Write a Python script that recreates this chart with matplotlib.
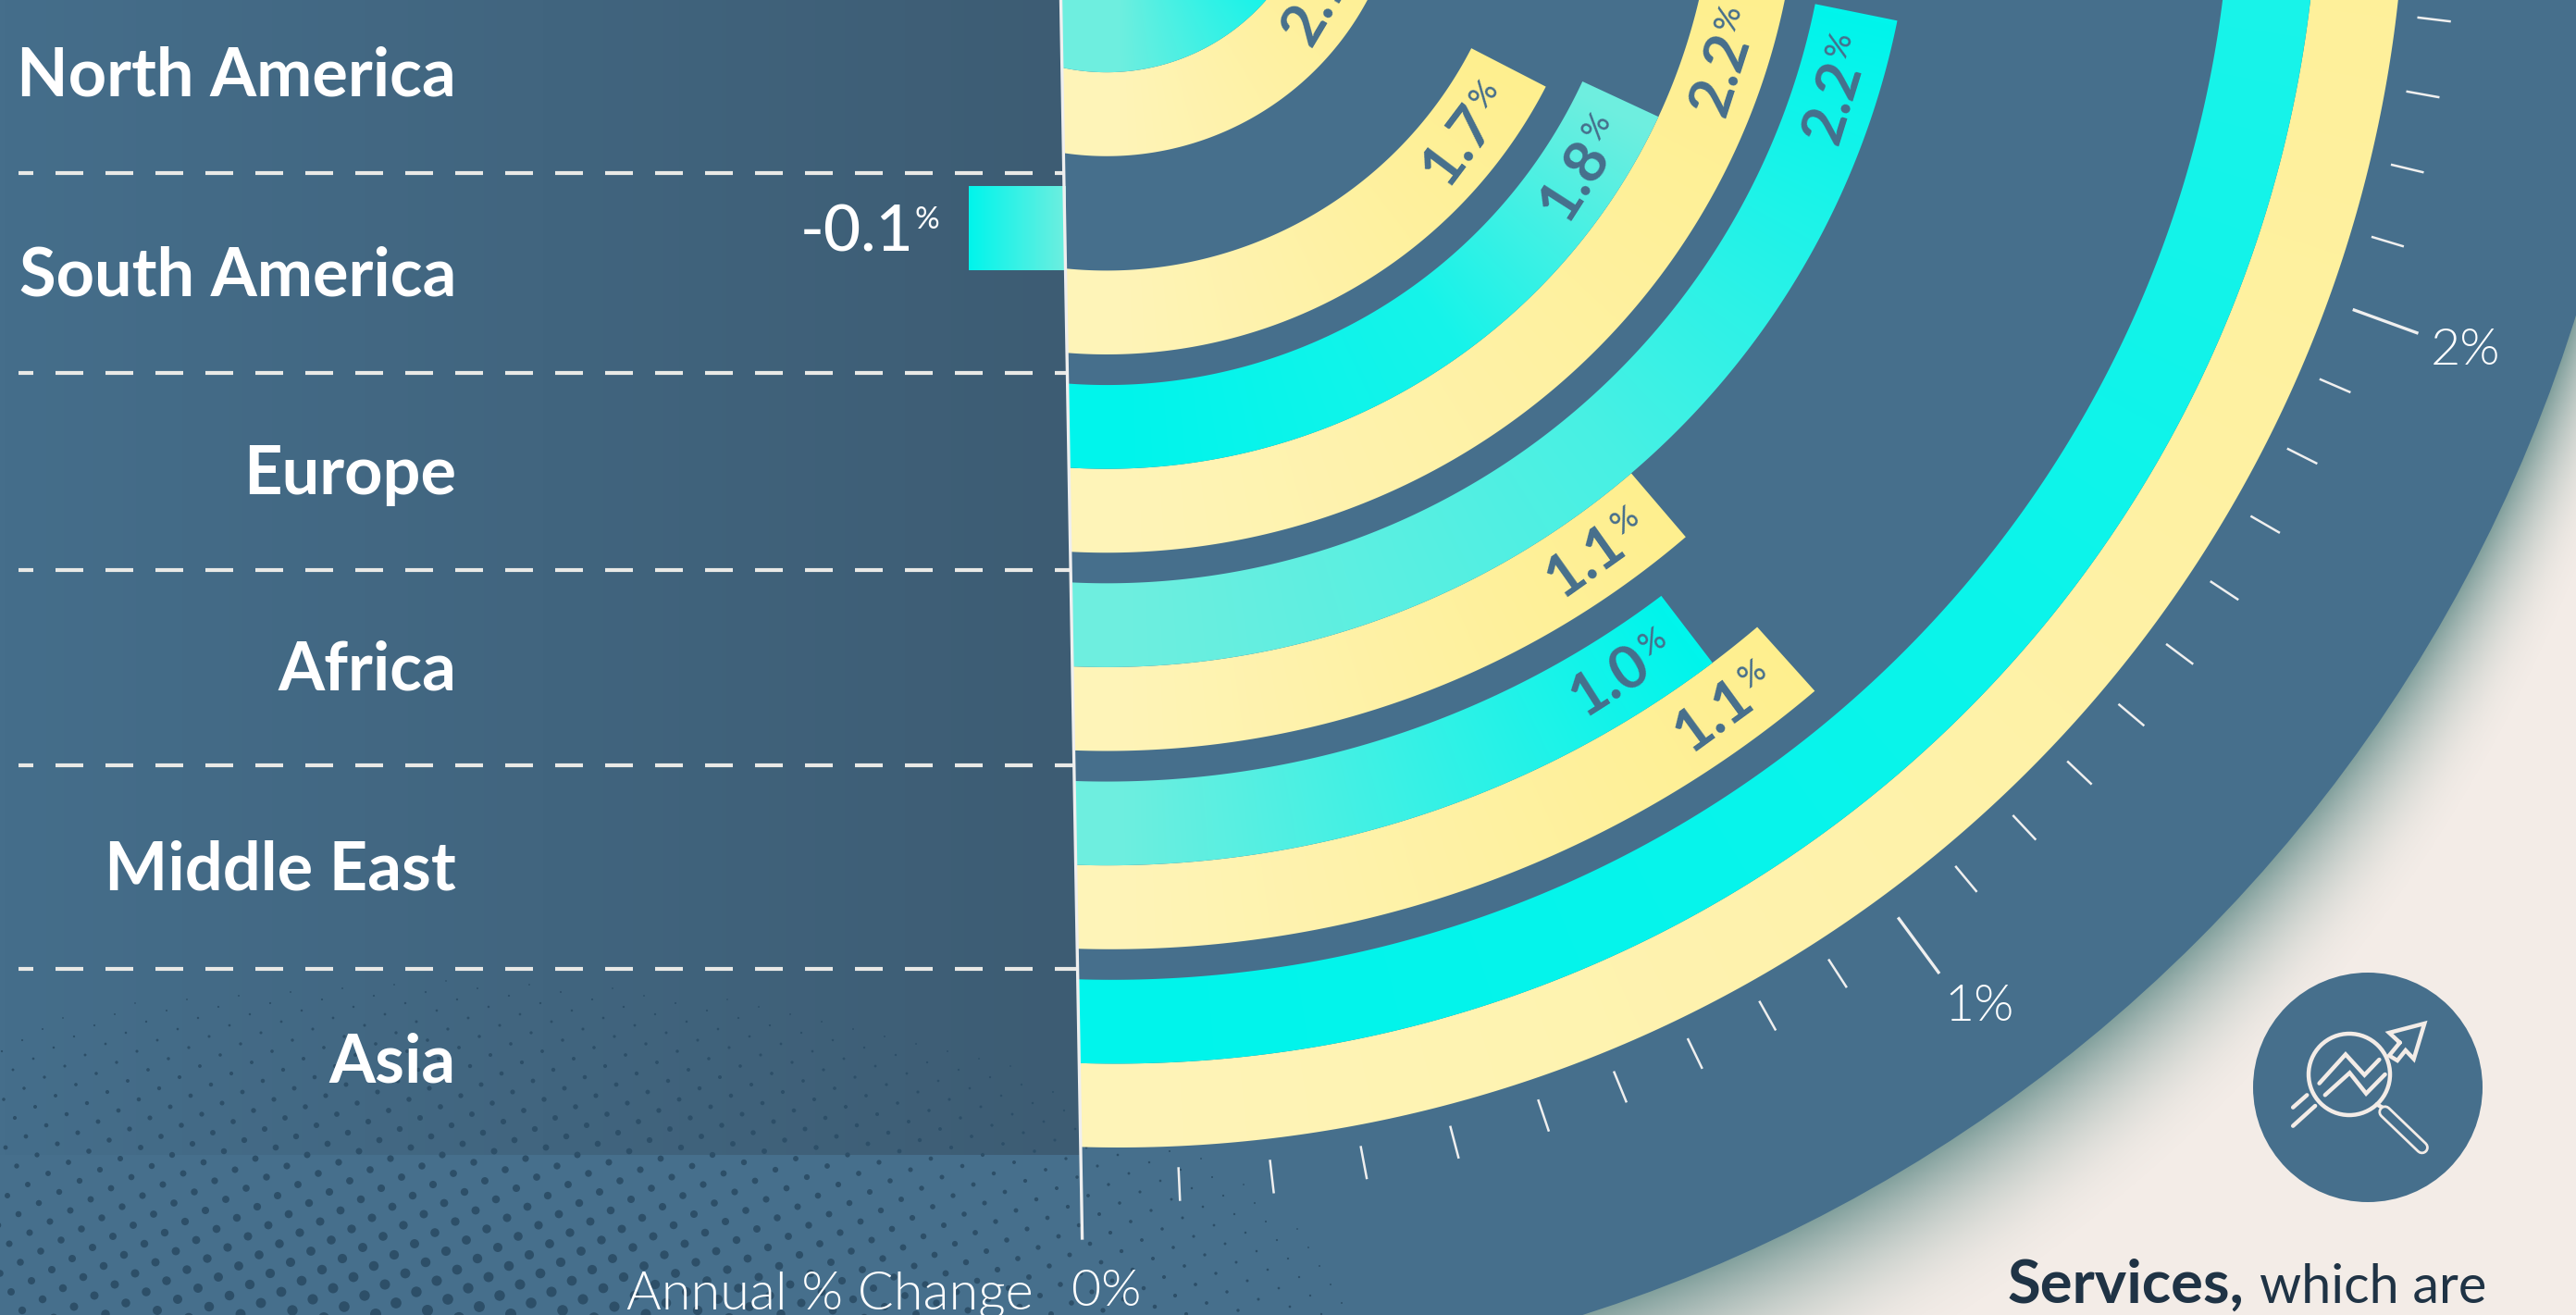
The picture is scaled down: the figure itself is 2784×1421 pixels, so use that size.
#!/usr/bin/env python3

import numpy as np
import matplotlib
matplotlib.use('Agg')
import matplotlib.pyplot as plt
from matplotlib.patches import Polygon, Circle, Rectangle

W, H = 2784, 1421

regions = ['North America', 'South America', 'Europe', 'Africa', 'Middle East', 'Asia']
# the two rings of each region, outer edge radius comes from the layout below
teal_values = [2.1, -0.1, 1.8, 2.2, 1.0, 3.4]
yellow_values = [2.1, 1.7, 2.2, 1.1, 1.1, 3.5]
teal_labels = ['', '-0.1', '1.8', '2.2', '1.0', '']
yellow_labels = ['2.1', '1.7', '2.2', '1.1', '1.1', '']

tick_major = [0, 1, 2]
tick_major_labels = ['0%', '1%', '2%']
tick_minor = [0.1, 0.2, 0.3, 0.4, 0.5, 0.6, 0.7, 0.8, 0.9, 1.1, 1.2, 1.3, 1.4, 1.5, 1.6, 1.7, 1.8, 1.9,
              2.1, 2.2, 2.3, 2.4, 2.5]

# value -> angle from straight down, degrees
scale_pct = [0, 0.5, 1, 2, 2.4, 4]
scale_deg = [-1.4, 18.7, 36.4, 70, 83.1, 135]

cx, cy = 1209, -151
disc_r = 1650
band = 90.6
gap = 33.05
asia_out = 1391
pitch = 2 * band + gap

BG = '#F3ECE7'
DISC = '#466F8C'
CYAN = np.array([0x00, 0xF5, 0xEC]) / 255
CYAN_L = np.array([0x6E, 0xEE, 0xDF]) / 255
YEL = np.array([0xFF, 0xEF, 0x8E]) / 255
YEL_L = np.array([0xFE, 0xF4, 0xB8]) / 255

plt.rcParams['font.family'] = ['Lato', 'DejaVu Sans']


def ang(v):
	return np.interp(v, scale_pct, scale_deg)


def bar_end(v, r):
	# inner rings run a bit ahead of the scale in the picture
	return ang(v) + min(3.2, 2.8 * (490 / r) ** 2) + (1.0 if v > 2.1 else 0)


def ring_shift(r):
	# inner rings sit slightly left of the outer ones
	return np.clip((asia_out - r) * 0.04, 0, 13)


def polar(r, deg):
	a = np.radians(deg)
	return cx - ring_shift(r) + r * np.sin(a), cy + r * np.cos(a)


def line_x(y):
	# the zero line is a little slanted
	return 1146.5 + y * 0.01725


yy, xx = np.mgrid[0:H, 0:W]
rr = np.hypot(xx - cx, yy - cy)
tt = np.degrees(np.arctan2(xx - cx, yy - cy))


def band_path(r0, r1, end_deg):
	# inner and outer arc from the slanted zero line to the end of the bar
	a0 = np.degrees(np.arcsin((line_x(cy + r0) - cx + ring_shift(r0)) / r0))
	a1 = np.degrees(np.arcsin((line_x(cy + r1) - cx + ring_shift(r1)) / r1))
	t_in = np.linspace(a0, end_deg, 300)
	t_out = np.linspace(end_deg, a1, 300)
	xi, yi = polar(r0, t_in)
	xo, yo = polar(r1, t_out)
	return np.column_stack([np.r_[xi, xo], np.r_[yi, yo]])


def draw_band(ax, r0, r1, end_deg, stops):
	# stops is a list of (angle, colour), colour runs along the ring
	angs = [s[0] for s in stops]
	img = np.dstack([np.interp(tt, angs, [s[1][c] for s in stops]) for c in range(3)])
	im = ax.imshow(img, extent=(0, W, H, 0), zorder=4, interpolation='nearest', aspect='auto')
	poly = Polygon(band_path(r0, r1, end_deg), closed=True, transform=ax.transData, fc='none', ec='none')
	ax.add_patch(poly)
	im.set_clip_path(poly)


def value_label(ax, r, end_deg, text):
	deg = end_deg - np.degrees(83 / r)
	x, y = polar(r, deg)
	rot = deg
	a = np.radians(rot)
	ux, uy = np.cos(a), -np.sin(a)
	nx, ny = -np.sin(a), -np.cos(a)
	ax.text(x + 28 * ux, y + 28 * uy, text, color=DISC, fontsize=46, fontweight='bold', rotation=rot,
			rotation_mode='anchor', ha='right', va='center', zorder=6)
	ax.text(x + 30 * ux + 11 * nx, y + 30 * uy + 11 * ny, '%', color=DISC, fontsize=25, fontweight=500, rotation=rot,
			rotation_mode='anchor', ha='left', va='center', zorder=6)


def stroke(ax, pts, lw=3.2, color=BG):
	p = np.array(pts, dtype=float)
	# icon points were read in the zoomed crop
	ax.plot(1392 + p[:, 0] / 1.126, 900 + p[:, 1] / 3, color=color, lw=lw, zorder=9, solid_capstyle='round',
			solid_joinstyle='miter')


def main():
	fig = plt.figure(figsize=(W / 100, H / 100), dpi=100, facecolor=BG)
	ax = fig.add_axes([0, 0, 1, 1])
	ax.set_xlim(0, W)
	ax.set_ylim(H, 0)
	ax.axis('off')

	# soft shadow round the disc, wider towards the bottom
	spread = 40 + 160 * np.cos(np.radians(tt))
	d = (rr - disc_r) / np.maximum(spread, 40)
	alpha = np.clip(1 - d, 0, 1) ** 2.2 * 0.85
	shadow = np.zeros((H, W, 4))
	shadow[..., :3] = np.array([0x6E, 0x93, 0x90]) / 255
	shadow[..., 3] = alpha * (d >= -0.2)
	ax.imshow(shadow, extent=(0, W, H, 0), zorder=1, aspect='auto')
	ax.add_patch(Circle((cx, cy), disc_r, fc=DISC, ec='none', zorder=2))
	ax.add_patch(Rectangle((0, 0), cx, H, fc=DISC, ec='none', zorder=2))

	# darker panel behind the region names
	panel_bottom = 1248
	grad = np.linspace(0, 1, 256)[None, :, None] * (np.array([0x3D, 0x5C, 0x73]) - np.array([0x45, 0x6E, 0x8B])) / 255
	grad = grad + np.array([0x45, 0x6E, 0x8B]) / 255
	im = ax.imshow(np.clip(grad, 0, 1), extent=(0, 1175, panel_bottom, 0), zorder=2.5, aspect='auto')
	clip = Polygon([(0, 0), (line_x(0), 0), (line_x(panel_bottom), panel_bottom), (0, panel_bottom)],
				   transform=ax.transData, fc='none', ec='none')
	ax.add_patch(clip)
	im.set_clip_path(clip)

	# halftone dots, bottom left
	i, j = np.mgrid[-60:120, -60:120]
	dx = -22 * i + 12 * j + 300
	dy = 12 * i + 20 * j + 1000
	dist = np.hypot((dx - 480) / 1150, (dy - 1520) / 520)
	size = np.clip(1 - dist, 0, 1) * 13.5
	keep = (size > 1.5) & (dx > -10) & (dx < W) & (dy < H + 10)
	ax.scatter(dx[keep], dy[keep], s=(size[keep] * 0.8) ** 2, c='#2D4F68', linewidths=0, zorder=3)

	# rings
	stops_teal = [
		[(0, CYAN_L), (60, CYAN)],
		[(0, CYAN), (90, CYAN)],
		[(0, CYAN), (35, CYAN * 0.8 + CYAN_L * 0.2), (63, CYAN_L)],
		[(0, CYAN_L), (40, CYAN * 0.35 + CYAN_L * 0.65), (78, CYAN)],
		[(0, CYAN_L), (36, CYAN)],
		[(0, CYAN), (50, CYAN * 0.9 + CYAN_L * 0.1), (90, CYAN * 0.75 + CYAN_L * 0.25)],
	]
	for k in range(len(regions)):
		rows_up = len(regions) - 1 - k
		r_y1 = asia_out - rows_up * pitch
		r_y0 = r_y1 - band
		r_t1 = r_y0
		r_t0 = r_t1 - band
		end_y = bar_end(yellow_values[k], (r_y0 + r_y1) / 2)
		draw_band(ax, r_y0, r_y1, end_y, [(0, YEL_L), (end_y, YEL)])
		if yellow_labels[k]:
			value_label(ax, (r_y0 + r_y1) / 2, end_y, yellow_labels[k])
		if teal_values[k] > 0:
			end_t = bar_end(teal_values[k], (r_t0 + r_t1) / 2)
			draw_band(ax, max(r_t0, 40), r_t1, end_t, stops_teal[k])
			if teal_labels[k]:
				value_label(ax, (r_t0 + r_t1) / 2, end_t, teal_labels[k])
		else:
			# the negative bar is straight, it leaves the zero line to the left
			top = cy + r_t0
			bottom = cy + r_t1
			left = line_x(bottom) + teal_values[k] * 1050
			g = np.linspace(0, 1, 256)[None, :, None] * (CYAN_L - CYAN) + CYAN
			ax.imshow(g, extent=(left, line_x(bottom), bottom, top), zorder=4, aspect='auto')
			ax.text(left - 59, (top + bottom) / 2 + 5, teal_labels[k], color='white', fontsize=50, fontweight=500, ha='right', va='center', zorder=6)
			ax.text(left - 58, (top + bottom) / 2 - 9, '%', color='white', fontsize=24, ha='left', va='center', zorder=6)

	ax.set_xlim(0, W)
	ax.set_ylim(H, 0)

	# scale
	ax.plot([line_x(0), line_x(1338)], [0, 1338], color='#EFEFEF', lw=2.4, zorder=5)
	for v in tick_minor:
		x, y = polar(np.array([1415, 1449]), ang(v))
		ax.plot(x, y, color='#EFEFEF', lw=1.8, zorder=5)
	for v, lab in zip(tick_major, tick_major_labels):
		if v > 0:
			x, y = polar(np.array([1421, 1493]), ang(v))
			ax.plot(x, y, color='#EFEFEF', lw=2.4, zorder=5)
			x, y = polar(1549, ang(v) + (0.5 if v == 1 else 0))
		else:
			x, y = 1196, 1396
		ax.text(x, y, lab, color='white', fontsize=40, fontweight=300, ha='center', va='center', zorder=6)
	ax.text(1117, 1415, 'Annual % Change', color='white', fontsize=41.5, fontweight=300, ha='right', va='baseline', zorder=6)

	# region names and separators
	name_y = [80, 297, 511, 723, 939, 1147]
	for name, y in zip(regions, name_y):
		ax.text(493, y + 23, name, color='white', fontsize=52, fontweight='bold', ha='right', va='baseline', zorder=6)
	for y in [187, 403, 616, 827, 1047]:
		ax.plot([20, line_x(y)], [y, y], color='#E9E9E6', lw=3, linestyle=(3.36, (7.2, 5.76)), zorder=3.5, dash_capstyle='butt')

	# icon
	ax.add_patch(Circle((2559, 1175), 124, fc=DISC, ec='none', zorder=8))
	ax.add_patch(Circle((2539, 1161), 44, fc='none', ec=BG, lw=3.2, zorder=9))
	stroke(ax, [(1255, 812), (1287, 718), (1310, 785), (1328, 735)])
	stroke(ax, [(1262, 850), (1292, 778), (1312, 845), (1335, 783)])
	stroke(ax, [(1223, 890), (1240, 850)])
	stroke(ax, [(1223, 950), (1250, 885)])
	stroke(ax, [(1353, 680), (1340, 648), (1383, 618), (1370, 733), (1360, 705), (1350, 738), (1340, 722), (1353, 680)])
	stroke(ax, [(1325, 880), (1338, 900)])
	stroke(ax, [(1335, 905), (1380, 1020)], lw=10.5)
	stroke(ax, [(1335, 905), (1380, 1020)], lw=6.5, color=DISC)

	ax.text(2170, 1408, 'Services,', color='#1F3345', fontsize=47, fontweight='bold', ha='left', va='baseline', zorder=6)
	ax.text(2687, 1408, 'which are', color='#1F3345', fontsize=41.5, ha='right', va='baseline', zorder=6)

	fig.savefig('out.png', dpi=100, facecolor=BG)


if __name__ == '__main__':
	main()
